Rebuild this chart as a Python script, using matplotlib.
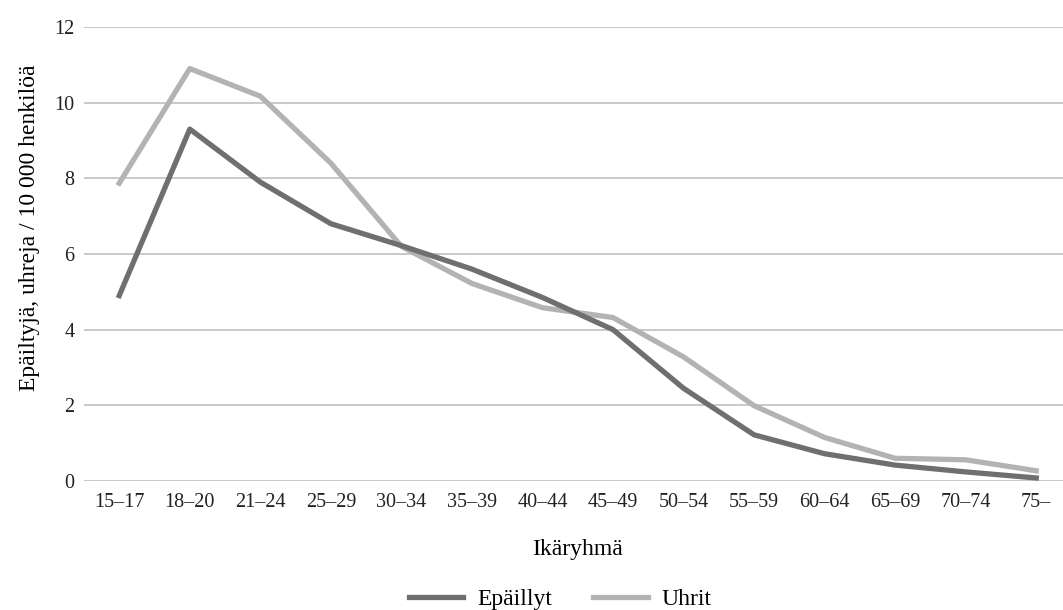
import matplotlib
matplotlib.use('Agg')
import matplotlib.pyplot as plt

plt.rcParams['font.family'] = ['Liberation Serif', 'DejaVu Serif']

# age groups and rates per 10 000 persons
age_groups = ['15–17', '18–20', '21–24', '25–29', '30–34', '35–39', '40–44',
              '45–49', '50–54', '55–59', '60–64', '65–69', '70–74', '75–']
epaillyt = [4.9, 9.3, 7.9, 6.8, 6.22, 5.6, 4.85, 4.0, 2.45, 1.22, 0.72, 0.42, 0.24, 0.08]
uhrit = [7.87, 10.9, 10.17, 8.4, 6.2, 5.22, 4.58, 4.32, 3.28, 1.99, 1.15, 0.6, 0.56, 0.27]


def do_plot():
    fig = plt.figure(figsize=(10.63, 6.10), dpi=100)
    ax = fig.add_axes([0.079, 0.2115, 0.929, 0.7443])
    x = list(range(len(age_groups)))
    ax.plot(x, epaillyt, color='#6f6f6f', lw=3.8, label='Epäillyt',
            solid_joinstyle='round', clip_on=False, zorder=3)
    ax.plot(x, uhrit, color='#b3b3b3', lw=3.8, label='Uhrit',
            solid_joinstyle='round', clip_on=False, zorder=2)

    ax.set_xlim(-0.5, len(age_groups) - 0.5)
    ax.set_ylim(0, 12)
    ax.set_yticks(range(0, 13, 2))
    ax.set_xticks(x)
    ax.set_xticklabels(age_groups)
    ax.yaxis.grid(True, color='#c0c0c0', lw=1.2)
    ax.set_axisbelow(True)
    for s in ax.spines.values():
        s.set_visible(False)
    ax.tick_params(axis='both', length=0, labelsize=14.5, colors='#222222')
    ax.tick_params(axis='y', pad=7)
    ax.tick_params(axis='x', pad=9)
    ax.set_ylabel('Epäiltyjä, uhreja / 10 000 henkilöä', fontsize=17, labelpad=10)
    ax.yaxis.set_label_coords(-0.045, 0.557)
    ax.set_xlabel('Ikäryhmä', fontsize=17, labelpad=19)

    fig.legend(loc='lower center', bbox_to_anchor=(0.527, -0.035), ncol=2, frameon=False,
               fontsize=17, handlelength=2.3, handletextpad=0.6, columnspacing=1.75)
    fig.savefig('out.png', dpi=100)


if __name__ == '__main__':
    do_plot()
